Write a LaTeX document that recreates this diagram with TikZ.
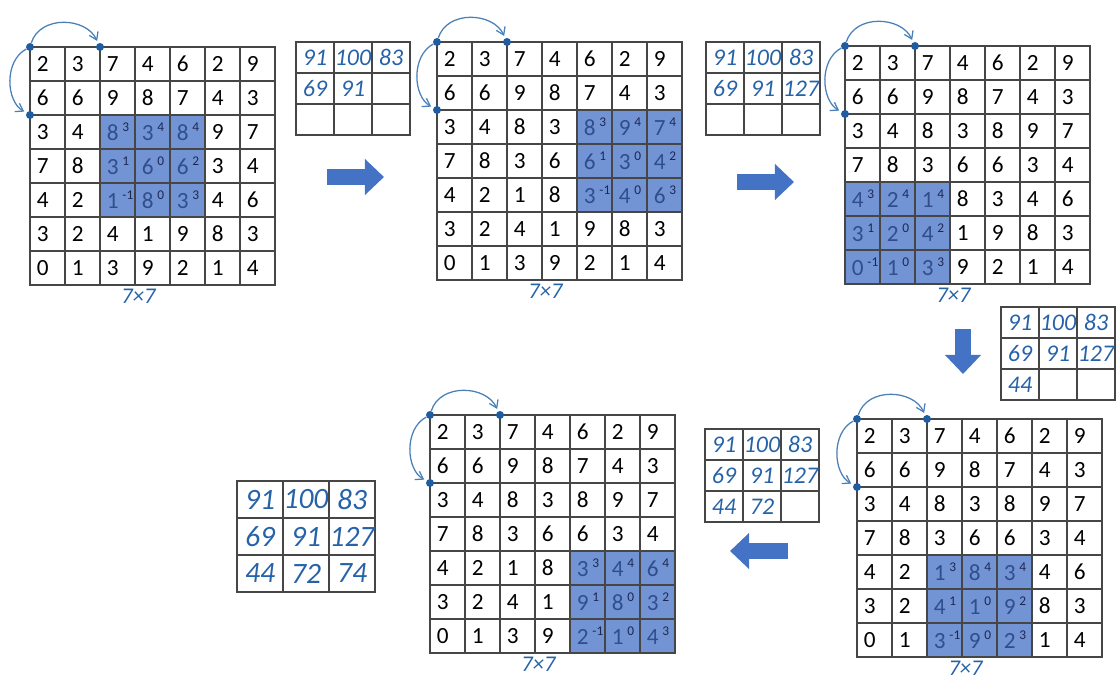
\documentclass[tikz,border=0pt]{standalone}
\usepackage{fontspec}
\setmainfont{Carlito}
\usetikzlibrary{arrows.meta,positioning}

\definecolor{hlblue}{RGB}{114,148,212}
\definecolor{hltext}{RGB}{48,78,140}
\definecolor{supcol}{RGB}{28,40,84}
\definecolor{gridgray}{RGB}{70,70,70}
\definecolor{arrowblue}{RGB}{68,114,196}
\definecolor{handblue}{RGB}{38,98,168}
\definecolor{strokeblue}{RGB}{74,128,184}
\definecolor{dotblue}{RGB}{32,92,160}

\def\imgdata{{2,3,7,4,6,2,9},{6,6,9,8,7,4,3},{3,4,8,3,8,9,7},{7,8,3,6,6,3,4},{4,2,1,8,3,4,6},{3,2,4,1,9,8,3},{0,1,3,9,2,1,4}}
\newcommand\wt[1]{\,\raisebox{0.8ex}{\fontsize{9.5}{10}\selectfont\color{supcol}#1}}

\tikzset{
  cell/.style={draw=gridgray,line width=0.9pt,minimum height=0.85cm,inner xsep=0.17cm,inner ysep=0pt,text width=0.535cm,align=left,font=\fontsize{16.5}{18}\selectfont},
  ocell/.style={draw=gridgray,line width=0.9pt,inner sep=0pt,text=handblue,font=\itshape\fontsize{17}{19}\selectfont},
  dot/.style={circle,fill=dotblue,inner sep=0pt,minimum size=0.2cm},
  stride/.style={strokeblue,line width=0.9pt,-{Straight Barb[length=0.18cm,width=0.24cm]},shorten >=0.06cm},
  dimlab/.style={text=handblue,inner sep=1pt,font=\itshape\fontsize{16}{17}\selectfont},
  bigarrow/.style={draw=arrowblue,line width=0.42cm,-{Triangle[length=0.48cm,width=0.88cm]}}
}

% name, left, top, column and row of the 3x3 window
\newcommand\convgrid[5]{%
  \fill[hlblue] (#2+#4*35,#3+#5*34) rectangle ++(105,102);
  \foreach \row [count=\ri from 0] in \imgdata {
    \foreach \v [count=\ci from 0] in \row {
      \pgfmathtruncatemacro\dr{\ri-#5}
      \pgfmathtruncatemacro\dc{\ci-#4}
      \pgfmathtruncatemacro\hl{(\dr>=0)*(\dr<3)*(\dc>=0)*(\dc<3)}
      \ifnum\hl=1
        \pgfmathtruncatemacro\kw{{3,4,4,1,0,2,-1,0,3}[\dr*3+\dc]}
        \node[cell,text=hltext] (#1-\ri-\ci) at (#2+\ci*35+17.5,#3+\ri*34+17) {\v\wt{\kw}};
      \else
        \node[cell] (#1-\ri-\ci) at (#2+\ci*35+17.5,#3+\ri*34+17) {\v};
      \fi
    }
  }
  \node[dot] (#1d0) at (#2,#3) {};
  \node[dot] (#1d1) at (#2+70,#3) {};
  \node[dot] (#1d2) at (#2,#3+68) {};
  \draw[stride] (#1d0) .. controls +(10,-32) and +(-14,-30) .. (#1d1);
  \draw[stride] (#1d0) .. controls +(-26,14) and +(-24,-14) .. (#1d2);
  \node[dimlab,below=0.04cm of #1-6-3,xshift=-0.35cm] (#1lab) {7×7};
}

% style, name, left, top, cell width, cell height, nine values
\newcommand\outgrid[7][]{%
  \foreach \v [count=\i from 0] in {#7} {
    \pgfmathtruncatemacro\ri{floor(\i/3)}
    \pgfmathtruncatemacro\ci{mod(\i,3)}
    \node[ocell,minimum width=#5*0.025cm,minimum height=#6*0.025cm,#1] (#2-\ri-\ci) at (#3+\ci*#5+#5/2,#4+\ri*#6+#6/2) {\v};
  }
}

\begin{document}
\begin{tikzpicture}[x=0.025cm,y=-0.025cm]
  \useasboundingbox (0,0) rectangle (1116,681);

  \convgrid{g1}{30}{47}{2}{2}
  \convgrid{g2}{437}{42}{4}{2}
  \convgrid{g3}{845}{46}{0}{4}
  \convgrid{g4}{857}{419}{2}{4}
  \convgrid{g5}{430}{415}{4}{4}

  \outgrid{o1}{296}{42}{38}{31}{91,100,83,69,91,{},{},{},{}}
  \outgrid{o2}{706}{42}{38}{31}{91,100,83,69,91,127,{},{},{}}
  \outgrid{o3}{1001}{307}{38}{31}{91,100,83,69,91,127,44,{},{}}
  \outgrid{o4}{705}{429}{38}{31}{91,100,83,69,91,127,44,72,{}}
  \outgrid[font=\itshape\fontsize{21}{23}\selectfont]{o5}{237}{481}{46}{37}{91,100,83,69,91,127,44,72,74}

  \coordinate (a1s) at (327,177);
  \coordinate (a1e) at (384,177);
  \coordinate (a2s) at (737,182);
  \coordinate (a2e) at (794,182);
  \coordinate (a3s) at (963,329);
  \coordinate (a3e) at (963,374);
  \coordinate (a4s) at (788,551);
  \coordinate (a4e) at (730,551);
  \draw[bigarrow] (a1s) -- (a1e);
  \draw[bigarrow] (a2s) -- (a2e);
  \draw[bigarrow] (a3s) -- (a3e);
  \draw[bigarrow] (a4s) -- (a4e);
\end{tikzpicture}
\end{document}
